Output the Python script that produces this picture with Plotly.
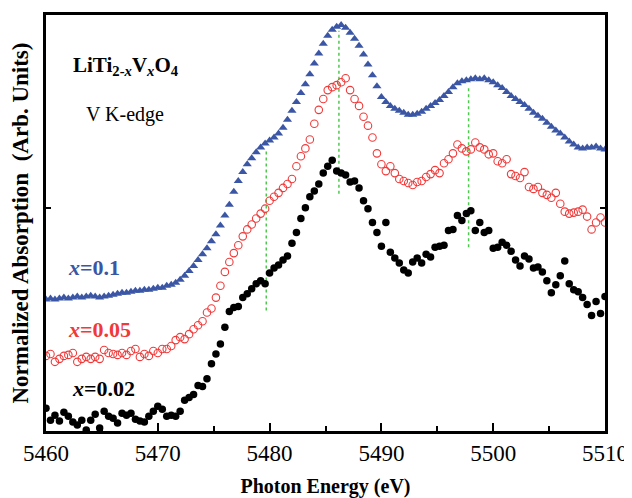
import plotly.graph_objects as go

# ---------------- data ----------------
E_start = 5460.0
E_step = 0.4
n_pts = 126
energy = [round(E_start + E_step * i, 1) for i in range(n_pts)]

absorption_x010 = [
    1.33, 1.34, 1.33, 1.34, 1.35, 1.34, 1.35, 1.36, 1.35, 1.36,
    1.37, 1.36, 1.35, 1.36, 1.37, 1.38, 1.39, 1.40, 1.40, 1.41,
    1.42, 1.42, 1.43, 1.43, 1.44, 1.45, 1.45, 1.47, 1.48, 1.50,
    1.53, 1.57, 1.62, 1.67, 1.73, 1.79, 1.85, 1.92, 1.99, 2.08,
    2.18, 2.29, 2.42, 2.53, 2.62, 2.70, 2.76, 2.82, 2.87, 2.91,
    2.94, 2.97, 3.01, 3.07, 3.15, 3.24, 3.33, 3.42, 3.51, 3.61,
    3.72, 3.82, 3.92, 4.00, 4.06, 4.09, 4.11, 4.08, 4.03, 3.97,
    3.90, 3.81, 3.71, 3.60, 3.49, 3.38, 3.33, 3.29, 3.26, 3.24,
    3.22, 3.20, 3.20, 3.21, 3.23, 3.26, 3.29, 3.32, 3.35, 3.39,
    3.43, 3.48, 3.52, 3.54, 3.55, 3.56, 3.57, 3.56, 3.57, 3.55,
    3.53, 3.50, 3.47, 3.43, 3.39, 3.36, 3.33, 3.30, 3.26, 3.22,
    3.19, 3.16, 3.12, 3.08, 3.04, 3.01, 2.97, 2.93, 2.90, 2.87,
    2.86, 2.87, 2.87, 2.88, 2.86, 2.85,
]

absorption_x005 = [
    0.76, 0.78, 0.70, 0.73, 0.76, 0.77, 0.79, 0.70, 0.73, 0.75,
    0.73, 0.75, 0.73, 0.82, 0.79, 0.78, 0.77, 0.79, 0.77, 0.81,
    0.83, 0.75, 0.78, 0.76, 0.81, 0.79, 0.83, 0.83, 0.86, 0.92,
    0.95, 0.93, 0.98, 1.03, 1.07, 1.11, 1.20, 1.24, 1.35, 1.47,
    1.61, 1.71, 1.80, 1.88, 1.97, 2.04, 2.09, 2.15, 2.20, 2.25,
    2.33, 2.37, 2.41, 2.46, 2.50, 2.55, 2.68, 2.78, 2.86, 2.95,
    3.11, 3.25, 3.36, 3.45, 3.48, 3.50, 3.53, 3.57, 3.45, 3.36,
    3.29, 3.18, 3.09, 2.97, 2.81, 2.70, 2.63, 2.68, 2.61, 2.55,
    2.53, 2.51, 2.49, 2.52, 2.53, 2.57, 2.60, 2.64, 2.61, 2.71,
    2.75, 2.81, 2.90, 2.86, 2.83, 2.85, 2.92, 2.87, 2.85, 2.80,
    2.81, 2.73, 2.71, 2.75, 2.60, 2.58, 2.56, 2.62, 2.47, 2.45,
    2.47, 2.41, 2.39, 2.36, 2.41, 2.30, 2.22, 2.20, 2.21, 2.22,
    2.24, 2.17, 2.04, 2.11, 2.16, 2.11,
]

absorption_x002 = [
    0.23, 0.11, 0.16, 0.10, 0.19, 0.15, 0.09, 0.06, 0.11, 0.01,
    0.11, 0.17, 0.03, 0.20, 0.15, 0.13, 0.08, 0.18, 0.16, 0.18,
    0.12, 0.10, 0.09, 0.15, 0.20, 0.25, 0.22, 0.15, 0.16, 0.15,
    0.20, 0.31, 0.34, 0.37, 0.46, 0.45, 0.53, 0.68, 0.78, 0.88,
    1.05, 1.21, 1.25, 1.26, 1.35, 1.39, 1.44, 1.49, 1.52, 1.49,
    1.60, 1.65, 1.68, 1.73, 1.77, 1.90, 2.01, 2.15, 2.26, 2.37,
    2.43, 2.50, 2.61, 2.68, 2.74, 2.63, 2.61, 2.59, 2.52, 2.53,
    2.46, 2.33, 2.25, 2.11, 2.01, 1.87, 2.11, 1.81, 1.75, 1.70,
    1.63, 1.60, 1.71, 1.75, 1.70, 1.79, 1.76, 1.86, 1.87, 1.88,
    2.03, 2.04, 2.18, 2.13, 2.20, 2.23, 2.03, 2.11, 2.01, 2.03,
    1.85, 1.86, 1.91, 1.88, 1.82, 1.73, 1.67, 1.77, 1.74, 1.65,
    1.66, 1.61, 1.52, 1.40, 1.48, 1.57, 1.72, 1.49, 1.43, 1.41,
    1.35, 1.28, 1.17, 1.31, 1.19, 1.36,
]

series_names = ["x=0.1", "x=0.05", "x=0.02"]

# green dotted guide lines: energy, lower end, upper end
guide_energy = [5479.7, 5486.2, 5497.8]
guide_low = [1.22, 2.40, 1.86]
guide_high = [2.86, 4.05, 3.48]

x_ticks = [5460, 5470, 5480, 5490, 5500, 5510]
y_mark = [2.26]

# ---------------- styling ----------------
BLUE = "#3b56a5"
RED = "#f03a3a"
BLACK = "#000000"
GREEN = "#4cc94c"
SERIF = "Liberation Serif"

fig = go.Figure()

fig.add_trace(go.Scatter(
    x=energy, y=absorption_x010, mode="markers", name=series_names[0],
    marker=dict(symbol="triangle-up", size=8, color=BLUE, line=dict(width=0)),
))
fig.add_trace(go.Scatter(
    x=energy, y=absorption_x005, mode="markers", name=series_names[1],
    marker=dict(symbol="circle-open", size=7.5, color=RED, line=dict(width=1.1, color=RED)),
))
fig.add_trace(go.Scatter(
    x=energy, y=absorption_x002, mode="markers", name=series_names[2],
    marker=dict(symbol="circle", size=7.5, color=BLACK, line=dict(width=0)),
))

for e, lo, hi in zip(guide_energy, guide_low, guide_high):
    fig.add_shape(type="line", x0=e, x1=e, y0=lo, y1=hi, xref="x", yref="y",
                  line=dict(color=GREEN, width=1.5, dash="dot"), layer="below")

# plot area in window pixels: x 46..607, y 12..433
# (the page body adds an 8 px offset, compensated in the margins)
def px(xp):
    return (xp - 46) / 561.0

def py(yp):
    return (433 - yp) / 421.0

annotations = [
    dict(text="<b>LiTi<sub>2-<i>x</i></sub>V<sub><i>x</i></sub>O<sub>4</sub></b>",
         x=px(71), y=py(64), xanchor="left", yanchor="middle",
         font=dict(family=SERIF, size=21, color=BLACK)),
    dict(text="V K-edge", x=px(84), y=py(113), xanchor="left", yanchor="middle",
         font=dict(family=SERIF, size=20, color=BLACK)),
    dict(text="<b><i>x</i>=0.1</b>", x=px(66), y=py(268), xanchor="left", yanchor="middle",
         font=dict(family=SERIF, size=22, color=BLUE)),
    dict(text="<b><i>x</i>=0.05</b>", x=px(66), y=py(330), xanchor="left", yanchor="middle",
         font=dict(family=SERIF, size=22, color=RED)),
    dict(text="<b><i>x</i>=0.02</b>", x=px(70), y=py(390), xanchor="left", yanchor="middle",
         font=dict(family=SERIF, size=22, color=BLACK)),
]
for a in annotations:
    a.update(xref="paper", yref="paper", showarrow=False)

fig.update_layout(
    width=624, height=490,
    margin=dict(l=38, r=25, t=4, b=65),
    paper_bgcolor="white", plot_bgcolor="white",
    showlegend=False,
    annotations=annotations,
    xaxis=dict(
        range=[5460, 5510], tickvals=x_ticks, ticktext=[str(t) for t in x_ticks],
        ticks="inside", ticklen=8, tickwidth=2, tickcolor=BLACK,
        minor=dict(ticks="inside", ticklen=5, tickwidth=1.5, dtick=5, tick0=5460, tickcolor=BLACK),
        showline=True, linewidth=2.5, linecolor=BLACK, mirror=True,
        showgrid=False, zeroline=False,
        tickfont=dict(family=SERIF, size=23, color=BLACK),
        title=dict(text="<b>Photon Energy (eV)</b>", standoff=14,
                   font=dict(family=SERIF, size=20, color=BLACK)),
    ),
    yaxis=dict(
        range=[0, 4.21], tickvals=y_mark, ticktext=[""],
        ticks="inside", ticklen=5, tickwidth=1.5, tickcolor=BLACK,
        showline=True, linewidth=2.5, linecolor=BLACK, mirror="ticks",
        showgrid=False, zeroline=False,
        title=dict(text="<b>Normalized Absorption  (Arb. Units)</b>", standoff=8,
                   font=dict(family=SERIF, size=23, color=BLACK)),
    ),
)

fig.write_html("out.html")
